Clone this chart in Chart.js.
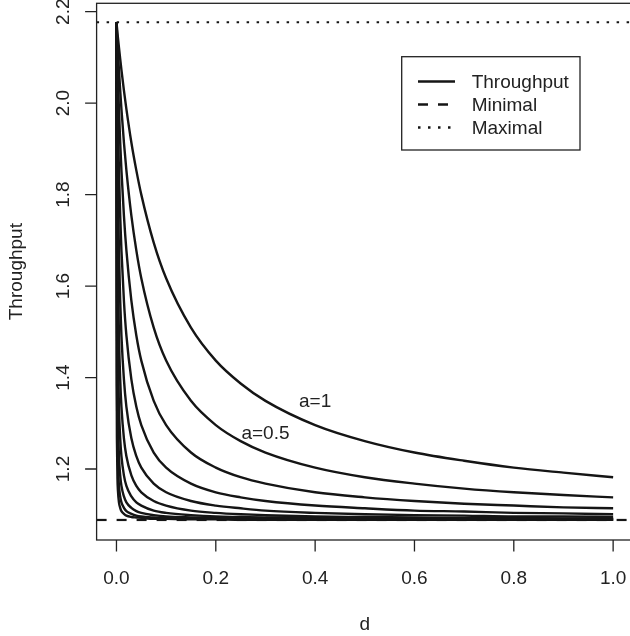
<!DOCTYPE html>
<html><head><meta charset="utf-8">
<script src="https://cdn.jsdelivr.net/npm/chart.js@4.4.1/dist/chart.umd.min.js"></script>
<style>html,body{margin:0;padding:0;overflow:hidden;background:#fff}</style>
</head><body>
<div style="width:640px;height:636px"><canvas id="c" width="640" height="636"></canvas></div>
<script>
// ---- data ----
const dValues = [0, 0.0005, 0.001, 0.002, 0.003, 0.005, 0.0075, 0.01, 0.015, 0.02, 0.03, 0.04, 0.05, 0.075, 0.1, 0.15, 0.2, 0.25, 0.3, 0.4, 0.5, 0.6, 0.7, 0.8, 0.9, 1.0];
const aValues = [1, 0.5, 0.25, 0.125, 0.0625, 0.03125, 0.015625, 0.0078125, 0.00390625, 0.001953125];
const throughput_a1      = [2.177, 2.171, 2.166, 2.154, 2.143, 2.122, 2.097, 2.073, 2.028, 1.987, 1.914, 1.853, 1.800, 1.695, 1.617, 1.509, 1.437, 1.387, 1.349, 1.296, 1.261, 1.236, 1.218, 1.203, 1.192, 1.182];
const throughput_a05     = [2.177, 2.166, 2.154, 2.133, 2.112, 2.073, 2.028, 1.987, 1.914, 1.853, 1.754, 1.678, 1.617, 1.509, 1.437, 1.349, 1.296, 1.261, 1.236, 1.203, 1.182, 1.168, 1.157, 1.149, 1.143, 1.138];
const throughput_a025    = [2.177, 2.154, 2.133, 2.092, 2.054, 1.987, 1.914, 1.853, 1.754, 1.678, 1.568, 1.492, 1.437, 1.349, 1.296, 1.236, 1.203, 1.182, 1.168, 1.149, 1.138, 1.130, 1.124, 1.120, 1.116, 1.114];
const throughput_a0125   = [2.177, 2.133, 2.092, 2.019, 1.956, 1.853, 1.754, 1.678, 1.568, 1.492, 1.396, 1.336, 1.296, 1.236, 1.203, 1.168, 1.149, 1.138, 1.130, 1.120, 1.114, 1.109, 1.107, 1.104, 1.103, 1.101];
const throughput_a00625  = [2.177, 2.092, 2.019, 1.901, 1.810, 1.678, 1.568, 1.492, 1.396, 1.336, 1.267, 1.228, 1.203, 1.168, 1.149, 1.130, 1.120, 1.114, 1.109, 1.104, 1.101, 1.099, 1.098, 1.096, 1.096, 1.095];
const throughput_a003    = [2.177, 2.019, 1.901, 1.737, 1.628, 1.492, 1.396, 1.336, 1.267, 1.228, 1.186, 1.163, 1.149, 1.130, 1.120, 1.109, 1.104, 1.101, 1.099, 1.096, 1.095, 1.094, 1.093, 1.093, 1.092, 1.092];
const throughput_a0016   = [2.177, 1.901, 1.737, 1.550, 1.447, 1.336, 1.267, 1.228, 1.186, 1.163, 1.140, 1.127, 1.120, 1.109, 1.104, 1.099, 1.096, 1.095, 1.094, 1.093, 1.092, 1.091, 1.091, 1.091, 1.090, 1.090];
const throughput_a0008   = [2.177, 1.737, 1.550, 1.382, 1.303, 1.228, 1.186, 1.163, 1.140, 1.127, 1.115, 1.108, 1.104, 1.099, 1.096, 1.094, 1.093, 1.092, 1.091, 1.091, 1.090, 1.090, 1.090, 1.090, 1.089, 1.089];
const throughput_a0004   = [2.177, 1.550, 1.382, 1.258, 1.208, 1.163, 1.140, 1.127, 1.115, 1.108, 1.102, 1.098, 1.096, 1.094, 1.093, 1.091, 1.091, 1.090, 1.090, 1.090, 1.089, 1.089, 1.089, 1.089, 1.089, 1.089];
const throughput_a0002   = [2.177, 1.382, 1.258, 1.180, 1.152, 1.127, 1.115, 1.108, 1.102, 1.098, 1.095, 1.094, 1.093, 1.091, 1.091, 1.090, 1.090, 1.089, 1.089, 1.089, 1.089, 1.089, 1.089, 1.089, 1.089, 1.089];
const throughputSeries = [throughput_a1, throughput_a05, throughput_a025, throughput_a0125, throughput_a00625,
  throughput_a003, throughput_a0016, throughput_a0008, throughput_a0004, throughput_a0002];
const minimalThroughput = 1.0885;
const maximalThroughput = 2.177;
const xTickValues = [0, 0.2, 0.4, 0.6, 0.8, 1.0];
const xTickLabels = ["0.0", "0.2", "0.4", "0.6", "0.8", "1.0"];
const yTickValues = [1.2, 1.4, 1.6, 1.8, 2.0, 2.2];
const yTickLabels = ["1.2", "1.4", "1.6", "1.8", "2.0", "2.2"];
const legendLabels = ["Throughput", "Minimal", "Maximal"];
const curveLabelTexts = ["a=1", "a=0.5"];
const curveLabelD = [0.4, 0.3];
const curveLabelT = [1.35, 1.28];
const xTitle = "d";
const yTitle = "Throughput";

// ---- chart ----
const INK = '#151515';
const FONT = '19px "Liberation Sans", Arial, Helvetica, sans-serif';
const X_MIN = -0.04, X_MAX = 1.04, Y_MIN = 1.0447, Y_MAX = 2.2184;

const datasets = throughputSeries.map((vals, k) => ({
  label: 'a=' + aValues[k],
  data: dValues.map((d, i) => ({ x: d, y: vals[i] })),
  borderColor: INK, borderWidth: 2.4, pointRadius: 0, fill: false,
  cubicInterpolationMode: 'monotone'
}));
datasets.push({
  label: legendLabels[1],
  data: [{ x: X_MIN, y: minimalThroughput }, { x: X_MAX, y: minimalThroughput }],
  borderColor: INK, borderWidth: 2.2, borderDash: [10, 10], pointRadius: 0, fill: false, borderCapStyle: 'butt'
});
datasets.push({
  label: legendLabels[2],
  data: [{ x: X_MIN, y: maximalThroughput }, { x: X_MAX, y: maximalThroughput }],
  borderColor: INK, borderWidth: 2.2, borderDash: [2.5, 7.5], pointRadius: 0, fill: false, borderCapStyle: 'butt'
});

const decor = {
  id: 'decor',
  afterDraw(chart) {
    const { ctx, chartArea: a, scales: { x, y } } = chart;
    ctx.save();
    ctx.strokeStyle = '#222'; ctx.lineWidth = 1.3; ctx.setLineDash([]);
    ctx.strokeRect(a.left, a.top, a.right - a.left, a.bottom - a.top);
    ctx.beginPath();
    xTickValues.forEach(v => { const px = x.getPixelForValue(v); ctx.moveTo(px, a.bottom); ctx.lineTo(px, a.bottom + 11.5); });
    yTickValues.forEach(v => { const py = y.getPixelForValue(v); ctx.moveTo(a.left, py); ctx.lineTo(a.left - 11.5, py); });
    ctx.stroke();

    ctx.fillStyle = '#222'; ctx.font = FONT; ctx.textAlign = 'center'; ctx.textBaseline = 'alphabetic';
    xTickValues.forEach((v, i) => ctx.fillText(xTickLabels[i], x.getPixelForValue(v), 583.5));
    yTickValues.forEach((v, i) => {
      ctx.save(); ctx.translate(69.3, y.getPixelForValue(v)); ctx.rotate(-Math.PI / 2);
      ctx.fillText(yTickLabels[i], 0, 0); ctx.restore();
    });
    ctx.fillText(xTitle, (a.left + a.right) / 2, 630);
    ctx.save(); ctx.translate(22, (a.top + a.bottom) / 2); ctx.rotate(-Math.PI / 2);
    ctx.fillText(yTitle, 0, 0); ctx.restore();

    curveLabelTexts.forEach((t, i) => ctx.fillText(t, x.getPixelForValue(curveLabelD[i]), y.getPixelForValue(curveLabelT[i]) + 6.8));

    // legend box
    const L = 401.7, T = 56.7, W = 178.3, H = 93.3;
    ctx.fillStyle = '#fff'; ctx.fillRect(L, T, W, H);
    ctx.strokeStyle = '#222'; ctx.lineWidth = 1.3; ctx.strokeRect(L, T, W, H);
    const rows = [81.5, 104.5, 127.5];
    const dashes = [[], [10, 10], [2.5, 7.5]];
    ctx.strokeStyle = INK; ctx.lineWidth = 2.3; ctx.lineCap = 'butt';
    rows.forEach((ry, i) => {
      ctx.setLineDash(dashes[i]); ctx.beginPath(); ctx.moveTo(418, ry); ctx.lineTo(455, ry); ctx.stroke();
    });
    ctx.setLineDash([]);
    ctx.fillStyle = '#222'; ctx.textAlign = 'left';
    rows.forEach((ry, i) => ctx.fillText(legendLabels[i], 471.7, ry + 6.8));
    ctx.restore();
  }
};

new Chart(document.getElementById('c'), {
  type: 'line',
  data: { datasets },
  options: {
    responsive: false, animation: false, devicePixelRatio: 1,
    layout: { padding: { left: 96.6, right: 7, top: 3.3, bottom: 96 } },
    scales: {
      x: { type: 'linear', min: X_MIN, max: X_MAX, display: false },
      y: { type: 'linear', min: Y_MIN, max: Y_MAX, display: false }
    },
    plugins: { legend: { display: false }, tooltip: { enabled: false } },
    elements: { point: { radius: 0 } }
  },
  plugins: [decor]
});
</script>
</body></html>
